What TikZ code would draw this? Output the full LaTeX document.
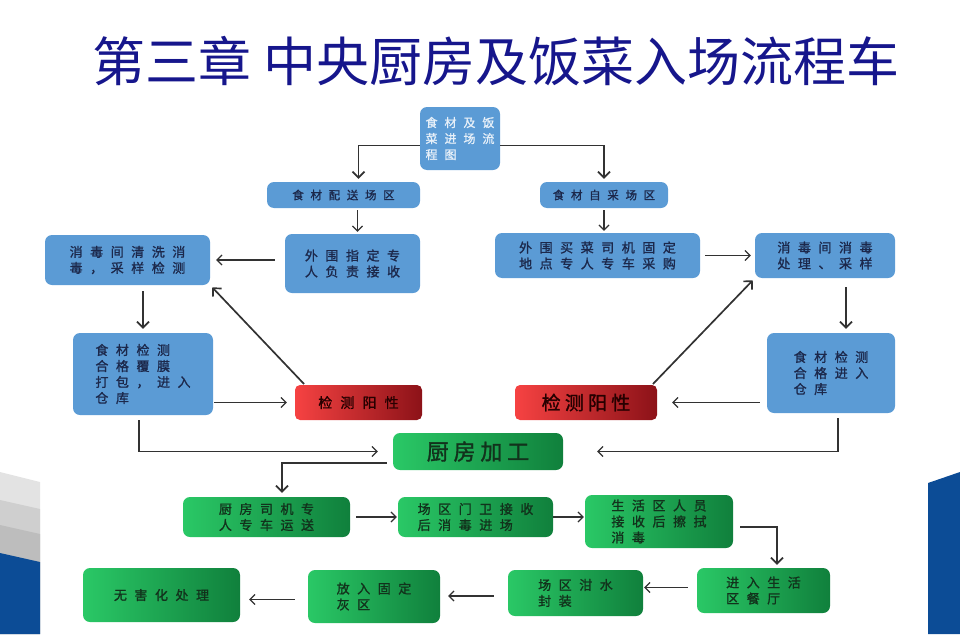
\documentclass[tikz,border=0pt]{standalone}
\usepackage{fontspec}
\setmainfont{Noto Sans CJK SC}
\newfontfamily\boxfont[LetterSpace=58,FakeBold=1.2]{Noto Sans CJK SC}
\newfontfamily\boxfontb[LetterSpace=22,FakeBold=1.5]{Noto Sans CJK SC}
\usepackage{xcolor}
\usetikzlibrary{arrows.meta,positioning,calc}
\definecolor{blkblue}{RGB}{91,155,213}
\definecolor{blktext}{RGB}{28,40,75}
\definecolor{ttlblue}{RGB}{22,22,140}
\definecolor{grnl}{RGB}{42,200,102}
\definecolor{grnd}{RGB}{16,128,60}
\definecolor{grntext}{RGB}{18,50,28}
\definecolor{redl}{RGB}{246,66,66}
\definecolor{redd}{RGB}{140,18,24}
\definecolor{lnk}{RGB}{50,50,50}
\definecolor{decob}{RGB}{12,76,150}
\tikzset{
  blk/.style  = {rectangle, rounded corners=7pt, fill=blkblue, text=blktext,
                 align=left, font=\boxfont\fontsize{13}{16}\selectfont, inner sep=2pt},
  blkt/.style = {blk, text=white!85!blkblue},
  blkr/.style = {rectangle, rounded corners=5pt, left color=redl, right color=redd,
                 text=black!85!red, align=center, inner sep=2pt},
  blkg/.style = {rectangle, rounded corners=7pt, left color=grnl, right color=grnd,
                 text=grntext, align=left, font=\boxfont\fontsize{13}{16}\selectfont, inner sep=2pt},
  fl/.style   = {-{Straight Barb[length=5pt,width=10pt]}, line width=1.2pt, lnk,
                 shorten <=6pt, shorten >=6pt},
  flb/.style  = {fl, line width=1.7pt, -{Straight Barb[length=6pt,width=12pt,line width=1.7pt]}},
  ttl/.style  = {font=\fontsize{53}{60}\selectfont, text=ttlblue, inner sep=0pt},
}

\begin{document}
\begin{tikzpicture}[x=1pt,y=-1pt]
  \useasboundingbox (0,0) rectangle (960,634);
  % corner decoration
  \fill[black!11] (0,472) -- (40,482) -- (40,634) -- (0,634) -- cycle;
  \fill[black!19] (0,500) -- (40,509) -- (40,634) -- (0,634) -- cycle;
  \fill[black!26] (0,525) -- (40,534) -- (40,634) -- (0,634) -- cycle;
  \fill[decob] (0,553) -- (40,562) -- (40,634) -- (0,634) -- cycle;
  \fill[decob] (928,483) -- (960,472) -- (960,634) -- (928,634) -- cycle;

  \node[ttl] (title) at (496,61) {第三章 中央厨房及饭菜入场流程车};

  \node[blkt, minimum width=80, minimum height=63, font=\boxfont\fontsize{12}{16}\selectfont] (top) at (460,138.5) {食材及饭\\菜进场流\\程图};
  \node[blk, minimum width=153, minimum height=26, font=\boxfont\fontsize{11.5}{14}\selectfont] (cfg) at (343.5,195) {食材配送场区};
  \node[blk, minimum width=128, minimum height=26, font=\boxfont\fontsize{11.5}{14}\selectfont] (zc) at (604,195) {食材自采场区};

  \node[blk, minimum width=135, minimum height=59] (wwjs) at (352.5,263.5) {外围指定专\\人负责接收};
  \node[blk, minimum width=165, minimum height=50] (xdL) at (127.5,260) {消毒间清洗消\\毒，采样检测};
  \node[blk, minimum width=140, minimum height=82] (jcL) at (143,374) {食材检测\\合格覆膜\\打包，进入\\仓库};
  \node[blkr, minimum width=127, minimum height=35, font=\boxfont\fontsize{14}{16}\selectfont] (yxL) at (358.5,402.5) {检测阳性};

  \node[blk, minimum width=205, minimum height=45] (mcR) at (597.5,255.5) {外围买菜司机固定\\地点专人专车采购};
  \node[blk, minimum width=140, minimum height=45] (xdR) at (825,255.5) {消毒间消毒\\处理、采样};
  \node[blk, minimum width=128, minimum height=80] (jcR) at (831,373) {食材检测\\合格进入\\仓库};
  \node[blkr, minimum width=142, minimum height=35, font=\boxfontb\fontsize{19}{20}\selectfont] (yxR) at (586,402.5) {检测阳性};

  \node[blkg, minimum width=170, minimum height=37, font=\boxfontb\fontsize{22}{24}\selectfont] (cf) at (478,451.5) {厨房加工};
  \node[blkg, minimum width=167, minimum height=40] (ys) at (266.5,517) {厨房司机专\\人专车运送};
  \node[blkg, minimum width=155, minimum height=40] (mw) at (475.5,517) {场区门卫接收\\后消毒进场};
  \node[blkg, minimum width=148, minimum height=53] (sh) at (659,521.5) {生活区人员\\接收后擦拭\\消毒};
  \node[blkg, minimum width=133, minimum height=45] (ct) at (763.5,590.5) {进入生活\\区餐厅};
  \node[blkg, minimum width=135, minimum height=46] (gs) at (575.5,593) {场区泔水\\封装};
  \node[blkg, minimum width=132, minimum height=53] (hq) at (374,596.5) {放入固定\\灰区};
  \node[blkg, minimum width=157, minimum height=54] (wh) at (161.5,595) {无害化处理};

  \draw[flb, shorten <=0pt, shorten >=3pt] ([yshift=-7pt]top.west) -| ([xshift=15pt]cfg.north);
  \draw[flb, shorten <=0pt, shorten >=3pt] ([yshift=-7pt]top.east) -| (zc.north);
  \draw[fl, shorten <=2pt, shorten >=2pt] ([xshift=14pt]cfg.south) -- ([xshift=14pt]cfg.south |- wwjs.north);
  \draw[fl, shorten <=2pt, shorten >=2pt] (zc.south) -- (zc.south |- mcR.north);

  \draw[fl, shorten <=10pt] (wwjs.west |- xdL) -- (xdL.east);
  \draw[flb, shorten >=4pt] (xdL.south -| jcL) -- (jcL.north);
  \draw[fl, shorten <=1pt, shorten >=8pt] (jcL.east |- yxL) -- (yxL.west);
  \draw[flb, shorten <=1pt, shorten >=3pt] ([xshift=10pt]yxL.north west) -- (xdL.south east);

  \draw[fl, shorten <=5pt, shorten >=4pt] (mcR.east |- xdR) -- (xdR.west);
  \draw[flb, shorten <=9pt, shorten >=4pt] ([xshift=21pt]xdR.south) -- ([xshift=21pt]xdR.south |- jcR.north);
  \draw[fl, shorten <=7pt, shorten >=15pt] (jcR.west |- yxR) -- (yxR.east);
  \draw[flb, shorten <=1pt, shorten >=3pt] ([xshift=-5pt]yxR.north east) -- (xdR.south west);

  \draw[fl, shorten <=5pt, shorten >=15pt] ([xshift=-4pt]jcL.south) |- (cf.west);
  \draw[fl, shorten <=5pt, shorten >=34pt] ([xshift=7pt]jcR.south) |- (cf.east);
  \draw[flb, shorten <=6pt, shorten >=4pt] ([yshift=-11.5pt]cf.west) -| ([xshift=15.5pt]ys.north);

  \draw[fl, shorten <=6pt, shorten >=1pt] (ys.east) -- (mw.west);
  \draw[fl, shorten <=0pt, shorten >=1pt] (mw.east) -- (mw.east -| sh.west);
  \draw[flb, shorten <=7pt, shorten >=3pt] ([yshift=-5.5pt]sh.east) -| ([xshift=13.5pt]ct.north);
  \draw[fl, shorten <=9pt, shorten >=1pt] ([yshift=3pt]ct.west) -- ([yshift=3pt]ct.west -| gs.east);
  \draw[fl, shorten <=14pt, shorten >=8pt] ([yshift=-3pt]gs.west) -- ([yshift=-3pt]gs.west -| hq.east);
  \draw[fl, shorten <=13pt, shorten >=9pt] ([yshift=-3pt]hq.west) -- ([yshift=-3pt]hq.west -| wh.east);
\end{tikzpicture}
\end{document}
